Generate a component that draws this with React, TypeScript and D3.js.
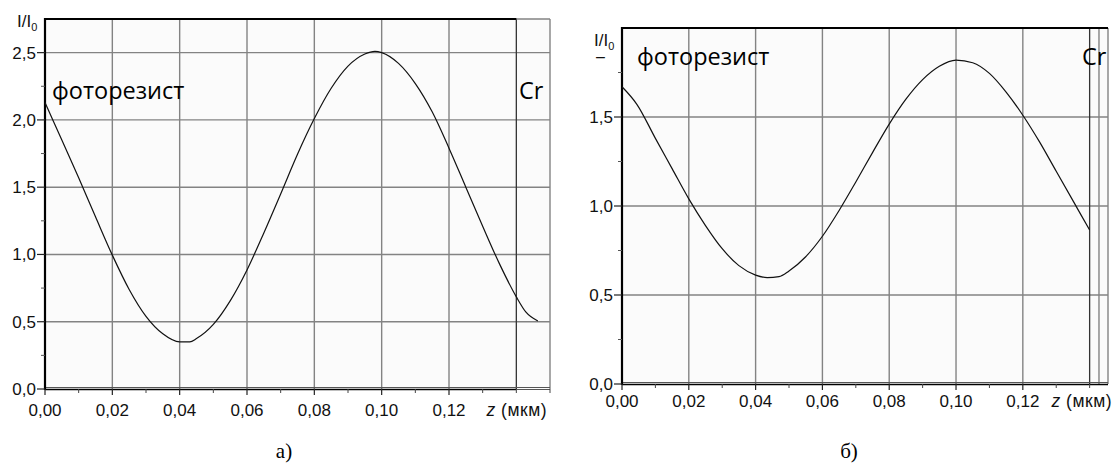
import React from 'react';
import * as d3 from 'd3';

// ---------- data ----------
const zA = [0, 0.005, 0.01, 0.015, 0.02, 0.025, 0.03, 0.035, 0.04, 0.043, 0.045, 0.05, 0.055, 0.06, 0.065, 0.07, 0.075, 0.08, 0.085, 0.09, 0.095, 0.098, 0.1, 0.105, 0.11, 0.115, 0.12, 0.125, 0.13, 0.135, 0.14, 0.1428, 0.1464];
const vA = [2.13, 1.85, 1.57, 1.28, 0.995, 0.74, 0.54, 0.41, 0.35, 0.35, 0.375, 0.48, 0.655, 0.885, 1.16, 1.45, 1.745, 2.01, 2.235, 2.4, 2.49, 2.51, 2.5, 2.42, 2.27, 2.06, 1.79, 1.5, 1.21, 0.93, 0.685, 0.573, 0.506];

const zB = [0, 0.0045, 0.01, 0.015, 0.02, 0.025, 0.03, 0.035, 0.04, 0.0435, 0.047, 0.05, 0.055, 0.06, 0.065, 0.07, 0.075, 0.08, 0.085, 0.09, 0.095, 0.1, 0.105, 0.11, 0.115, 0.12, 0.125, 0.13, 0.135, 0.14];
const vB = [1.67, 1.57, 1.38, 1.21, 1.04, 0.89, 0.76, 0.665, 0.612, 0.598, 0.603, 0.635, 0.715, 0.83, 0.975, 1.135, 1.3, 1.46, 1.6, 1.71, 1.785, 1.82, 1.805, 1.745, 1.64, 1.51, 1.36, 1.195, 1.03, 0.865];

const xTickValues = [0, 0.02, 0.04, 0.06, 0.08, 0.1, 0.12];
const xTickLabels = ['0,00', '0,02', '0,04', '0,06', '0,08', '0,10', '0,12'];
const xMinorA = [0.01, 0.03, 0.05, 0.07, 0.09, 0.11, 0.13, 0.14, 0.15];
const xMinorB = [0.01, 0.03, 0.05, 0.07, 0.09, 0.11, 0.13, 0.14];
const xGridA = [0.02, 0.04, 0.06, 0.08, 0.1, 0.12];
const xGridB = [0.02, 0.04, 0.06, 0.08, 0.1, 0.12];

const yTicksA = [0, 0.5, 1, 1.5, 2, 2.5];
const yLabelsA = ['0,0', '0,5', '1,0', '1,5', '2,0', '2,5'];
const yMinorA = [0.25, 0.75, 1.25, 1.75, 2.25];
const yTicksB = [0, 0.5, 1, 1.5];
const yLabelsB = ['0,0', '0,5', '1,0', '1,5'];
const yMinorB = [0.25, 0.75, 1.25, 1.75];

const materialLeft = 'фоторезист';
const materialRight = 'Cr';
const captions = ['а)', 'б)'];

type PanelProps = {
  left: number; right: number; top: number; bottom: number;
  xMax: number; yMax: number;
  z: number[]; v: number[];
  xGrid: number[]; xMinor: number[];
  yTicks: number[]; yLabels: string[]; yMinor: number[];
  boundary: number; extraLines: number[];
  thickTopToBoundary: boolean;
  labelBaseline: number;
  unitEnd: number;
  textPos: { fx: number; fy: number; cx: number; cy: number };
  dashMark?: boolean;
  clipId: string;
};

const tickFont = '"Liberation Sans", Arial, sans-serif';
const textFont = '"Open Sans", "Noto Sans", sans-serif';
const GRID = '#838383';

function Panel(p: PanelProps) {
  const x = d3.scaleLinear().domain([0, p.xMax]).range([p.left, p.right]);
  const y = d3.scaleLinear().domain([0, p.yMax]).range([p.bottom, p.top]);
  const line = d3.line<number>().x((_, i) => x(p.z[i])).y((d) => y(d)).curve(d3.curveMonotoneX);
  const xb = x(p.boundary);
  return (
    <g>
      <defs>
        <clipPath id={p.clipId}>
          <rect x={p.left} y={p.top} width={p.right - p.left} height={p.bottom - p.top} />
        </clipPath>
      </defs>
      <rect x={p.left} y={p.top} width={p.right - p.left} height={p.bottom - p.top} fill="#fbfbfb" />
      {p.yTicks.filter((t) => t > 0).map((t) => (
        <line key={'hg' + t} x1={p.left} x2={p.right} y1={y(t)} y2={y(t)} stroke={GRID} strokeWidth={1.4} />
      ))}
      {p.xGrid.map((t) => (
        <line key={'vg' + t} x1={x(t)} x2={x(t)} y1={p.top} y2={p.bottom} stroke={GRID} strokeWidth={1.4} />
      ))}
      {p.extraLines.map((t) => (
        <line key={'ex' + t} x1={x(t)} x2={x(t)} y1={p.top} y2={p.bottom} stroke={GRID} strokeWidth={1.4} />
      ))}
      <line x1={p.right} x2={p.right} y1={p.top} y2={p.bottom} stroke={GRID} strokeWidth={1.4} />
      <line x1={xb} x2={xb} y1={p.top} y2={p.bottom} stroke="#333" strokeWidth={1.3} />
      <line x1={p.left} x2={p.right} y1={p.top} y2={p.top} stroke={GRID} strokeWidth={1.4} />
      <line x1={p.left - 1} x2={p.thickTopToBoundary ? xb : p.right} y1={p.top} y2={p.top} stroke="#000" strokeWidth={2.2} />
      <line x1={p.left} x2={p.right} y1={p.bottom - 1.5} y2={p.bottom - 1.5} stroke="#555" strokeWidth={1.2} />
      <line x1={p.left} x2={p.thickTopToBoundary ? xb : p.right} y1={p.bottom + 0.5} y2={p.bottom + 0.5} stroke="#000" strokeWidth={1.6} />
      {p.thickTopToBoundary && (
        <line x1={xb} x2={p.right} y1={p.bottom + 0.5} y2={p.bottom + 0.5} stroke="#555" strokeWidth={1.2} />
      )}
      <line x1={p.left} x2={p.left} y1={p.top - 1} y2={p.bottom + 1} stroke="#000" strokeWidth={2.2} />
      {xTickValues.map((t) => (
        <line key={'xt' + t} x1={x(t)} x2={x(t)} y1={p.bottom} y2={p.bottom + 6} stroke="#222" strokeWidth={1.2} />
      ))}
      {p.xMinor.map((t) => (
        <line key={'xm' + t} x1={x(t)} x2={x(t)} y1={p.bottom} y2={p.bottom + 4} stroke="#444" strokeWidth={1} />
      ))}
      {xTickValues.map((t, i) => (
        <text key={'xl' + t} x={x(t)} y={p.labelBaseline} textAnchor="middle" fontFamily={tickFont} fontSize={17} fill="#111">
          {xTickLabels[i]}
        </text>
      ))}
      <text x={p.unitEnd} y={p.labelBaseline} textAnchor="end" fontFamily={tickFont} fontSize={17.5} letterSpacing={0.5} fill="#111">
        <tspan fontStyle="italic">z</tspan>
        <tspan> (мкм)</tspan>
      </text>
      {p.yTicks.map((t) => (
        <line key={'yt' + t} x1={p.left - 8} x2={p.left} y1={y(t)} y2={y(t)} stroke="#222" strokeWidth={1.2} />
      ))}
      {p.yMinor.map((t) => (
        <line key={'ym' + t} x1={p.left - 4} x2={p.left} y1={y(t)} y2={y(t)} stroke="#555" strokeWidth={1} />
      ))}
      {p.yTicks.map((t, i) => (
        <text key={'yl' + t} x={p.left - 9} y={y(t) + 6} textAnchor="end" fontFamily={tickFont} fontSize={17} fill="#111">
          {p.yLabels[i]}
        </text>
      ))}
      <text x={p.left - 28} y={p.top + (p.dashMark ? 18 : 8)} fontFamily={tickFont} fontSize={17} fill="#111">
        I/I<tspan fontSize={11} dy={4}>0</tspan>
      </text>
      {p.dashMark && (
        <text x={p.left - 26} y={p.top + 34} fontFamily={tickFont} fontSize={16} fill="#111">–</text>
      )}
      <path d={line(p.v) || ''} fill="none" stroke="#111" strokeWidth={1.2} />
      <text x={p.textPos.fx} y={p.textPos.fy} fontFamily={textFont} fontSize={23.5} fill="#000">{materialLeft}</text>
      <g clipPath={`url(#${p.clipId})`}>
        <text x={p.textPos.cx} y={p.textPos.cy} fontFamily={textFont} fontSize={23.5} fill="#000">{materialRight}</text>
      </g>
    </g>
  );
}

export default function App() {
  return (
    <svg width={1115} height={470} style={{ position: 'absolute', left: 0, top: 0, background: '#fff' }}>
      <Panel
        left={45} right={550} top={19} bottom={389}
        xMax={0.15} yMax={2.75}
        z={zA} v={vA}
        xGrid={xGridA} xMinor={xMinorA}
        yTicks={yTicksA} yLabels={yLabelsA} yMinor={yMinorA}
        boundary={0.14} extraLines={[]}
        thickTopToBoundary={true}
        labelBaseline={416}
        unitEnd={547}
        textPos={{ fx: 52, fy: 99, cx: 519, cy: 99 }}
        clipId="clipA"
      />
      <Panel
        left={622} right={1108} top={28} bottom={384}
        xMax={0.1455} yMax={2.0}
        z={zB} v={vB}
        xGrid={xGridB} xMinor={xMinorB}
        yTicks={yTicksB} yLabels={yLabelsB} yMinor={yMinorB}
        boundary={0.14} extraLines={[0.1428]}
        thickTopToBoundary={false}
        labelBaseline={407}
        unitEnd={1112}
        textPos={{ fx: 637, fy: 65, cx: 1082, cy: 65 }}
        dashMark={true}
        clipId="clipB"
      />
      <text x={284} y={458} textAnchor="middle" fontFamily='"Liberation Serif", "Times New Roman", serif' fontSize={21} fill="#000">{captions[0]}</text>
      <text x={849} y={458} textAnchor="middle" fontFamily='"Liberation Serif", "Times New Roman", serif' fontSize={21} fill="#000">{captions[1]}</text>
    </svg>
  );
}
